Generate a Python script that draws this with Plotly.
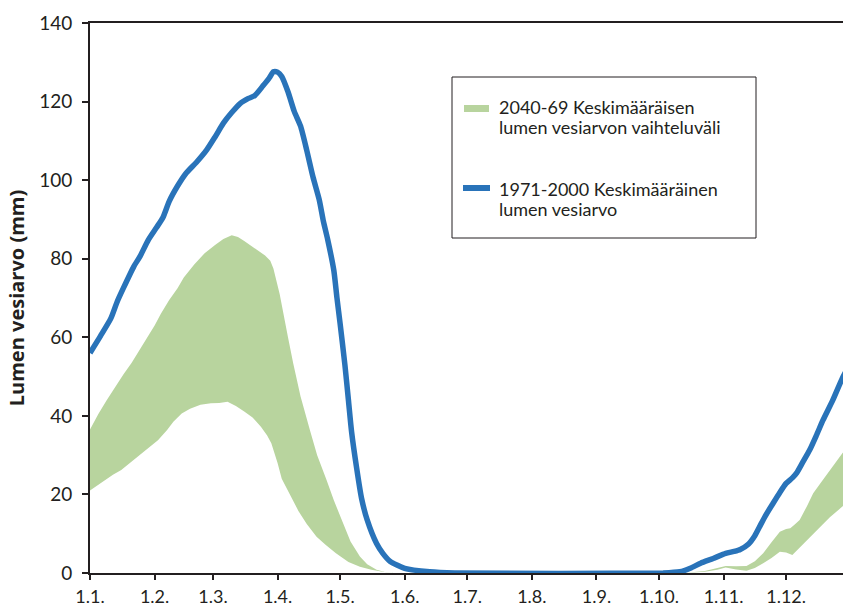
import plotly.graph_objects as go

# ---- data (day of year, 0 = 1.1.) ----
blue_days = [0, 5, 10, 13, 16, 21, 24, 28, 32, 35, 38, 42, 46, 51, 56, 60, 64, 68, 72, 76, 79, 83, 86, 88, 90,
             92, 95, 98, 101, 104, 107, 110, 112, 114, 117, 118.5, 120, 122.3, 124, 125.5, 128, 130.3, 133, 137.5,
             140.5, 143.9, 151, 163, 175, 275, 283, 288, 293, 299, 305, 309, 312, 316, 319, 321.3, 324, 327.7, 331,
             334, 337, 339, 342, 345.3, 348.5, 351.7, 356.4, 361, 365]
blue_vals = [56, 60.3, 64.8, 69, 72.5, 78, 80.6, 84.8, 88, 90.5, 94.6, 98.5, 101.7, 104.5, 107.7, 111, 114.5, 117.2,
             119.5, 120.8, 121.5, 124, 126, 127.6, 127.5, 126.4, 122.5, 117.5, 113.8, 107.6, 100.8, 95, 89.5, 85, 77,
             70, 63.5, 53, 44, 36, 26.5, 19, 13.5, 7.5, 5, 3, 1.2, 0.3, 0, 0, 0.3, 1.2, 2.5, 3.7, 5, 5.5, 6, 7.4, 9.5,
             11.8, 14.5, 17.7, 20.5, 22.8, 24.2, 25.4, 28.2, 31.3, 35, 38.9, 44, 49.6, 53.5]

green_low_days = [0, 4, 7, 11, 15, 19, 23, 28, 32.6, 37, 40, 44, 48, 53, 58, 62, 66, 70, 74, 78, 82, 85, 87, 90, 92,
                  95, 100, 104, 108.7, 113, 118, 124, 129.5, 135, 140.5, 146, 285, 295, 301, 305, 310, 315, 319, 323,
                  327, 331, 334, 337, 340, 343.7, 347, 350, 355, 361, 365]
green_low = [21, 22.5, 23.7, 25, 26.2, 28, 29.6, 31.8, 33.8, 36.4, 38.5, 40.6, 41.8, 42.8, 43.2, 43.3, 43.6, 42.5,
             41.1, 39.6, 37.2, 35, 33, 28, 24, 21, 15.8, 12.5, 9.2, 7.2, 5, 2.8, 1.6, 0.8, 0.3, 0, 0, 0.3, 0.8, 1.4,
             0.9, 0.6, 1.3, 2.5, 3.8, 5.4, 5.2, 4.6, 6.2, 8.4, 10, 11.8, 14.2, 16.9, 19]

green_high_days = [0, 4, 8, 12, 16, 20, 23, 27, 31, 34, 38, 42, 45, 50, 55, 60, 64, 68, 71, 74, 77.4, 80, 84, 86.5,
                   88, 91, 93, 95, 97.5, 101, 105.5, 109, 113.5, 117, 121.5, 125, 129.5, 133, 137.5, 142, 146, 285,
                   295, 301, 305, 310, 315, 319, 323, 327, 331, 334, 336, 338, 340.5, 344, 347, 351, 355, 361, 365]
green_high = [36.5, 40.5, 44, 47.4, 50.5, 53.5, 56, 59.5, 63, 66, 69.5, 72.5, 75.2, 78.5, 81.4, 83.5, 85, 86, 85.5,
              84.5, 83.3, 82.3, 80.8, 79.5, 77.5, 71, 65, 60, 53.4, 45, 36.4, 30, 23.7, 18.5, 12.6, 8, 4.2, 2.2, 0.8,
              0.2, 0, 0, 0.5, 1.2, 1.8, 1.7, 1.8, 3, 5, 7.8, 10.5, 11.2, 11.4, 12.3, 13.5, 17, 20.3, 23.2, 26.2, 30.5,
              33]

tick_days = [0, 31, 59, 90, 120, 151, 181, 212, 243, 273, 304, 334]
tick_labels = ["1.1.", "1.2.", "1.3.", "1.4.", "1.5.", "1.6.", "1.7.", "1.8.", "1.9.", "1.10.", "1.11.", "1.12."]

legend_green = "2040-69 Keskimääräisen"
legend_green2 = "lumen vesiarvon vaihteluväli"
legend_blue = "1971-2000 Keskimääräinen"
legend_blue2 = "lumen vesiarvo"

GREEN = "rgb(184,212,158)"
BLUE = "rgb(41,115,185)"
INK = "#231f20"
FONT = "Lato"

# ---- figure ----
W, H = 843, 606
L, R, T, B = 90, 0, 23, 33
pw, ph = W - L - R, H - T - B


def px(x):  # window pixel -> paper
    return (x - L) / pw


def py(y):
    return (H - B - y) / ph


fig = go.Figure()
fig.add_trace(go.Scatter(x=green_low_days, y=green_low, mode="lines", line=dict(width=0, color=GREEN),
                         showlegend=False, hoverinfo="skip"))
fig.add_trace(go.Scatter(x=green_high_days, y=green_high, mode="lines", line=dict(width=0, color=GREEN),
                         fill="tonexty", fillcolor=GREEN, showlegend=False, name=legend_green))
fig.add_trace(go.Scatter(x=blue_days, y=blue_vals, mode="lines", line=dict(width=5.5, color=BLUE, shape="spline",
                         smoothing=0.6), showlegend=False, name=legend_blue))

# custom legend box
shapes = [
    dict(type="rect", xref="paper", yref="paper", x0=px(452), x1=px(756), y0=py(238), y1=py(77),
         line=dict(color=INK, width=1), fillcolor="white", layer="above"),
    dict(type="rect", xref="paper", yref="paper", x0=px(464), x1=px(489), y0=py(112), y1=py(105),
         line=dict(width=0), fillcolor=GREEN, layer="above"),
    dict(type="line", xref="paper", yref="paper", x0=px(463), x1=px(490), y0=py(188), y1=py(188),
         line=dict(color=BLUE, width=6), layer="above"),
]
annotations = []
for txt, y in [(legend_green, 107), (legend_green2, 127), (legend_blue, 189), (legend_blue2, 209)]:
    annotations.append(dict(text=txt, xref="paper", yref="paper", x=px(497), y=py(y), xanchor="left",
                            yanchor="middle", showarrow=False, font=dict(family=FONT, size=18, color=INK)))

fig.update_layout(
    width=W, height=H,
    margin=dict(l=L, r=R, t=T, b=B, autoexpand=False),
    plot_bgcolor="white", paper_bgcolor="white",
    font=dict(family=FONT, size=18, color=INK),
    shapes=shapes, annotations=annotations,
    showlegend=False,
)
fig.update_xaxes(range=[0, 361.3], tickmode="array", tickvals=tick_days, ticktext=tick_labels,
                 showgrid=False, zeroline=False, showline=True, linecolor=INK, linewidth=2, mirror=True,
                 ticks="outside", ticklen=5, tickwidth=1.5, tickcolor=INK, ticklabelstandoff=1,
                 automargin=False, tickfont=dict(family=FONT, size=18, color=INK))
fig.update_yaxes(range=[0, 140], dtick=20, showgrid=False, zeroline=False, showline=True, linecolor=INK,
                 linewidth=2, ticks="outside", ticklen=6, tickwidth=1.5, tickcolor=INK, ticklabelstandoff=6,
                 automargin=False, tickfont=dict(family=FONT, size=19, color=INK),
                 title=dict(text="<b>Lumen vesiarvo (mm)</b>", font=dict(family="Open Sans", size=20, color=INK),
                            standoff=9))

fig.write_html("out.html", config={"displayModeBar": False},
               post_script="document.body.style.margin='0';document.body.style.overflow='hidden';")
